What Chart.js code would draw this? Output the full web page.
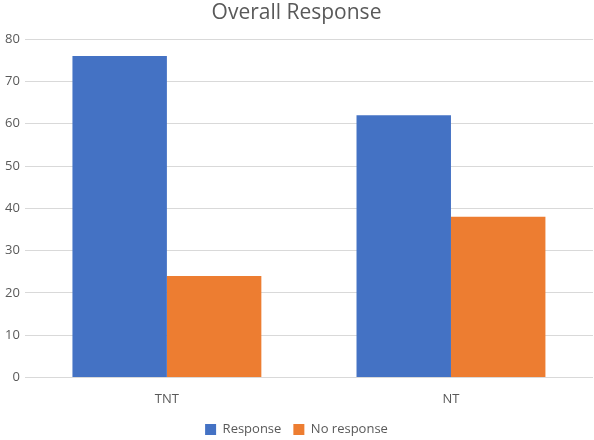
<!DOCTYPE html>
<html>
<head>
<meta charset="utf-8">
<script src="https://cdn.jsdelivr.net/npm/chart.js@4"></script>
<style>
  html, body { margin: 0; padding: 0; background: #fff; }
  #wrap { width: 594px; height: 440px; }
</style>
</head>
<body>
<div id="wrap"><canvas id="chart"></canvas></div>
<script>
const categories = ['TNT', 'NT'];
const responseValues = [76, 62];
const noResponseValues = [24, 38];
const yTicks = [0, 10, 20, 30, 40, 50, 60, 70, 80];

const ctx = document.getElementById('chart').getContext('2d');
Chart.defaults.font.family = '"Open Sans", "Noto Sans", sans-serif';
Chart.defaults.color = '#595959';

new Chart(ctx, {
  type: 'bar',
  data: {
    labels: categories,
    datasets: [
      {
        label: 'Response',
        data: responseValues,
        backgroundColor: '#4472C4',
        categoryPercentage: 0.665,
        barPercentage: 1
      },
      {
        label: 'No response',
        data: noResponseValues,
        backgroundColor: '#ED7D31',
        categoryPercentage: 0.665,
        barPercentage: 1
      }
    ]
  },
  options: {
    animation: false,
    responsive: true,
    maintainAspectRatio: false,
    layout: { padding: { left: 0, right: 1, top: 0, bottom: -6 } },
    plugins: {
      title: {
        display: true,
        text: 'Overall Response',
        font: { size: 21, weight: 'normal' },
        color: '#595959',
        padding: { top: 0, bottom: 14 }
      },
      legend: {
        position: 'bottom',
        labels: {
          boxWidth: 11,
          boxHeight: 11,
          padding: 12,
          font: { size: 13 },
          color: '#595959'
        }
      },
      tooltip: { enabled: false }
    },
    scales: {
      x: {
        grid: { display: false },
        border: { display: false },
        ticks: { font: { size: 13 }, padding: 6 },
        afterFit: axis => { axis.height -= 2; }
      },
      y: {
        min: 0,
        max: 80,
        afterBuildTicks: axis => { axis.ticks = yTicks.map(v => ({ value: v })); },
        grid: { color: '#D9D9D9', drawTicks: false },
        border: { display: false },
        ticks: { font: { size: 13 }, padding: 5 }
      }
    }
  }
});
</script>
</body>
</html>
